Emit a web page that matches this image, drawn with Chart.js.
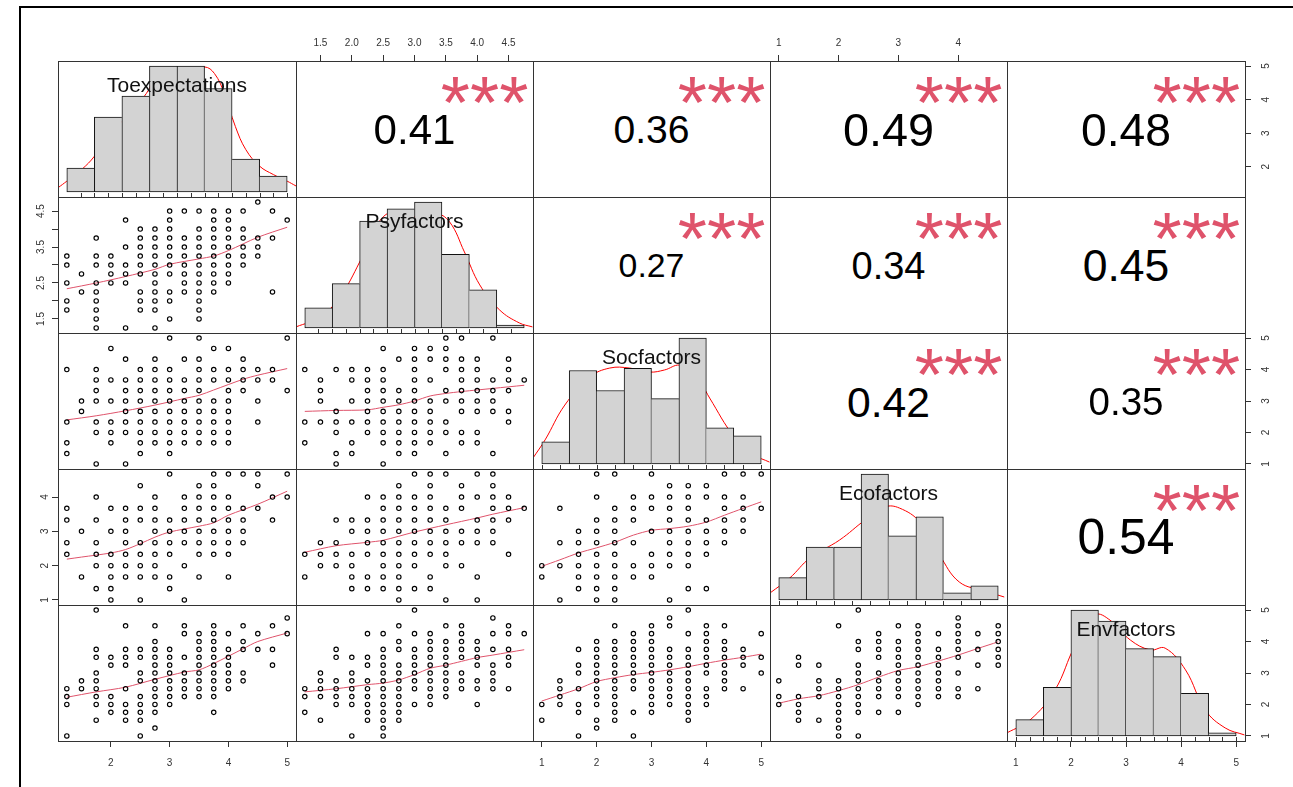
<!DOCTYPE html>
<html>
<head>
<meta charset="utf-8">
<script src="https://cdn.jsdelivr.net/npm/chart.js@4.4.1/dist/chart.umd.min.js"></script>
<style>
html, body { margin: 0; padding: 0; background: #fff; }
body { width: 1293px; height: 787px; position: relative; overflow: hidden; font-family: "Liberation Sans", Arial, sans-serif; }
#frame { position: absolute; left: 19px; top: 6px; width: 1300px; height: 800px; border-left: 2px solid #000; border-top: 2px solid #000; }
canvas { position: absolute; }
.box { position: absolute; border: 1px solid #333; box-sizing: border-box; pointer-events: none; }
.txt { position: absolute; white-space: nowrap; line-height: 1; transform: translate(-50%, -50%); }
.cor { color: #000; }
.star { color: #DF536B; }
.lab { color: #111; font-size: 21px; }
</style>
</head>
<body>
<div id="frame"></div>
<div id="stage"></div>
<script>
const varNames = ['Toexpectations', 'Psyfactors', 'Socfactors', 'Ecofactors', 'Envfactors'];

// lower panels: [x value, [y values at that x]]
const toexpVsPsy = [
    [1.25, [3.25, 3, 2.5, 2, 1.75]],
    [1.5, [2.75, 2.25]],
    [1.75, [3.75, 3.25, 3, 2.5, 2.25, 2, 1.75, 1.5, 1.25]],
    [2, [3.25, 3, 2.75, 2.5]],
    [2.25, [4.25, 3.5, 3, 2.75, 2.5, 1.25]],
    [2.5, [4, 3.75, 3.5, 3.25, 3, 2.75, 2.25, 2, 1.75]],
    [2.75, [4, 3.75, 3.5, 3.25, 3, 2.75, 2.5, 2.25, 2, 1.75, 1.25]],
    [3, [4.5, 4.25, 4, 3.75, 3.5, 3.25, 3, 2.75, 2.25, 2, 1.5]],
    [3.25, [4.5, 3.75, 3.5, 3.25, 3, 2.75, 2.5, 2.25]],
    [3.5, [4.5, 4, 3.75, 3.5, 3.25, 3, 2.75, 2.5, 2.25, 2, 1.75, 1.5]],
    [3.75, [4.5, 4.25, 4, 3.75, 3.5, 3.25, 3, 2.75, 2.5, 2.25]],
    [4, [4.5, 4.25, 4, 3.75, 3.5, 3.25, 3, 2.75, 2.5]],
    [4.25, [4.5, 4, 3.75, 3.5, 3.25, 3]],
    [4.5, [4.75, 3.75, 3.5, 3.25]],
    [4.75, [4.5, 3.75, 2.25]],
    [5, [4.25]]
];
const toexpVsSoc = [
    [1.25, [4, 2.33, 1.67, 1.33]],
    [1.5, [3, 2.67]],
    [1.75, [4, 3.67, 3.33, 3, 2.33, 2, 1]],
    [2, [4.67, 3.67, 3, 2.33, 2, 1.67]],
    [2.25, [4.33, 3.67, 3.33, 3, 2.67, 2.33, 2, 1]],
    [2.5, [4, 3.67, 3.33, 3, 2.67, 2.33, 2, 1.67, 1.33]],
    [2.75, [4.33, 4, 3.67, 3.33, 3, 2.67, 2.33, 2, 1.67]],
    [3, [5, 4, 3.67, 3.33, 3, 2.67, 2.33, 2, 1.67, 1.33]],
    [3.25, [4.33, 3.67, 3.33, 3, 2.67, 2.33, 2, 1.67]],
    [3.5, [5, 4.33, 4, 3.67, 3.33, 3, 2.67, 2.33, 2, 1.67]],
    [3.75, [4.67, 4, 3.67, 3, 2.67, 2.33, 2, 1.67]],
    [4, [4.67, 4, 3.67, 3.33, 3, 2.67, 2.33, 2, 1.67]],
    [4.25, [4.33, 4, 3.67, 3.33]],
    [4.5, [4, 3.67, 3, 2.33]],
    [4.75, [4, 3.67]],
    [5, [5, 3.33]]
];
const toexpVsEco = [
    [1.25, [3.67, 3.33, 2.67, 2.33]],
    [1.5, [3, 1.67]],
    [1.75, [4, 3.33, 2.67, 2.33, 2, 1.33]],
    [2, [3.67, 3, 2.33, 2, 1.67, 1.33, 1]],
    [2.25, [3.67, 3.33, 3, 2.67, 2.33, 2, 1.67]],
    [2.5, [4.33, 3.67, 3.33, 2.67, 2.33, 2, 1.67, 1]],
    [2.75, [4, 3.67, 3.33, 3, 2.67, 2.33, 2, 1.67]],
    [3, [4.67, 3.33, 3, 2.67, 2.33, 1.67, 1.33]],
    [3.25, [4, 3.67, 3.33, 3, 2.67, 2, 1]],
    [3.5, [4.33, 4, 3.67, 3.33, 3, 2.67, 2.33, 1.67]],
    [3.75, [4.67, 4.33, 4, 3.67, 3.33, 3, 2.67, 2.33]],
    [4, [4.67, 4, 3.67, 3.33, 3, 2.67, 2.33, 1.67]],
    [4.25, [4.67, 3.67, 3.33, 3, 2.67]],
    [4.5, [4.67, 4.33, 3.67]],
    [4.75, [4, 3.33]],
    [5, [4.67, 4]]
];
const toexpVsEnv = [
    [1.25, [2.5, 2.25, 2, 1]],
    [1.5, [2.75, 2.5]],
    [1.75, [5, 3.75, 3.5, 3, 2.75, 2.5, 2.25, 2, 1.5]],
    [2, [3.5, 3.25, 2.25, 2, 1.75]],
    [2.25, [4.5, 3.75, 3.5, 3.25, 2.5, 2, 1.75, 1.5]],
    [2.5, [3.75, 3.5, 3, 2.75, 2.25, 2, 1.75, 1.5, 1]],
    [2.75, [4.5, 4, 3.75, 3.5, 3.25, 3, 2.75, 2.5, 2.25, 2, 1.75, 1.25]],
    [3, [3.75, 3.5, 3.25, 3, 2.75, 2.5, 2.25, 2]],
    [3.25, [4.5, 4.25, 3.5, 3, 2.75, 2.5, 2.25]],
    [3.5, [4.25, 4, 3.75, 3.5, 3.25, 3, 2.75, 2.5, 2.25]],
    [3.75, [4.5, 4.25, 4, 3.75, 3.5, 3.25, 3, 2.75, 2.5, 2.25, 1.75]],
    [4, [4.25, 3.75, 3.5, 3.25, 3, 2.75, 2.5]],
    [4.25, [4.5, 4, 3.75, 3, 2.75]],
    [4.5, [4.25, 3.75]],
    [4.75, [4.5, 3.75, 3.25]],
    [5, [4.75, 4.25]]
];
const psyVsSoc = [
    [1.25, [4, 2.33, 1.67]],
    [1.5, [3.67, 3.33, 3, 2.33]],
    [1.75, [4, 2.67, 2.33, 2, 1.33, 1]],
    [2, [4, 3.67, 3, 2.33, 1.67, 1.33]],
    [2.25, [4, 3.67, 3.33, 3, 2.67, 2.33, 2]],
    [2.5, [4.67, 4, 3.67, 3.33, 3, 2.67, 2.33, 2, 1.67, 1]],
    [2.75, [4.33, 3.33, 3, 2.67, 2.33, 2, 1.67, 1.33]],
    [3, [4.67, 4.33, 4, 3.67, 3.33, 3, 2.67, 2.33, 2, 1.67, 1.33]],
    [3.25, [4.67, 4.33, 3.67, 3, 2.67, 2.33, 2, 1.67]],
    [3.5, [5, 4.67, 4.33, 4, 3.33, 3, 2.33, 2, 1.33]],
    [3.75, [5, 4.33, 4, 3.67, 3.33, 3, 2.67, 2, 1.67]],
    [4, [4.33, 4, 3.67, 3.33, 3, 2.67, 2, 1.67]],
    [4.25, [5, 3.67, 3.33, 3, 2.67, 1.33]],
    [4.5, [4.33, 4, 3.67, 3.33, 2.67, 2.33]],
    [4.75, [3.67]]
];
const psyVsEco = [
    [1.25, [2.33, 1.67]],
    [1.5, [2.67, 2.33, 2]],
    [1.75, [3.33, 2.67, 2.33, 2]],
    [2, [3.33, 3, 2.33, 2, 1.67, 1.33]],
    [2.25, [4, 3.33, 3, 2.67, 2.33, 1.67, 1.33]],
    [2.5, [4, 3.67, 3.33, 3, 2.67, 2.33, 2, 1.67, 1.33]],
    [2.75, [4.33, 4, 3.67, 3.33, 3, 2.67, 2.33, 2, 1.67, 1.33, 1]],
    [3, [4.67, 4, 3.67, 3.33, 3, 2.67, 2.33, 2, 1.33]],
    [3.25, [4.67, 4.33, 4, 3.67, 3.33, 3, 2.67, 2.33, 1.67, 1.33]],
    [3.5, [4.67, 3.67, 3.33, 3, 2.67, 2.33, 2, 1]],
    [3.75, [4.33, 4, 3.67, 3, 2.67, 2]],
    [4, [4.67, 4, 3.33, 3, 2.67, 1.67, 1]],
    [4.25, [4.67, 4.33, 4, 3.67, 3.33, 3, 2.67]],
    [4.5, [4, 3.67, 3.33, 2.33]],
    [4.75, [3.67]]
];
const psyVsEnv = [
    [1.25, [2.5, 2.25, 1.75]],
    [1.5, [3, 2.75, 2.5, 2.25, 1.5]],
    [1.75, [3.75, 3.5, 2.75, 2.5, 2.25, 2]],
    [2, [3.5, 3, 2.75, 2.5, 2.25, 2, 1]],
    [2.25, [4.25, 3.5, 3.25, 2.75, 2.5, 2.25, 2, 1.75, 1.5]],
    [2.5, [4.25, 3.75, 3.5, 3.25, 3, 2.75, 2.5, 2.25, 2, 1.75, 1.5, 1.25, 1]],
    [2.75, [4.5, 4, 3.75, 3.25, 3, 2.75, 2.5, 2.25, 2, 1.75, 1.5]],
    [3, [5, 4.25, 3.75, 3.5, 3.25, 3, 2.75, 2.5, 2]],
    [3.25, [4.25, 4, 3.75, 3.5, 3.25, 3, 2.75, 2.5, 2.25, 2]],
    [3.5, [4.5, 4, 3.75, 3.5, 3.25, 3, 2.75, 2.5, 2.25]],
    [3.75, [4.5, 4.25, 4, 3.75, 3.5, 3, 2.75, 2.5]],
    [4, [4, 3.75, 3.5, 3.25, 2.75, 2.5, 2]],
    [4.25, [4.75, 4.25, 3.75, 3.25, 3, 2.75, 2.5]],
    [4.5, [4.5, 4.25, 3.75, 3.5, 3.25, 2.5]],
    [4.75, [4.25]]
];
const socVsEco = [
    [1, [2, 1.67]],
    [1.33, [3.67, 2.67, 2, 1]],
    [1.67, [3, 2.67, 2.33, 2, 1.67, 1.33]],
    [2, [4.67, 4, 3.33, 3, 2.67, 2.33, 2, 1.67, 1.33, 1]],
    [2.33, [4.67, 3.67, 3.33, 3, 2.67, 2.33, 2, 1.67, 1.33, 1]],
    [2.67, [4, 3.67, 3.33, 2.67, 2, 1.67]],
    [3, [4.67, 4, 3.67, 3, 2.33, 2, 1.67]],
    [3.33, [4.33, 4, 3.67, 3.33, 3, 2.67, 2.33, 2, 1]],
    [3.67, [4.33, 4, 3.67, 3.33, 3, 2.67, 2.33, 2, 1.33]],
    [4, [4.33, 4, 3.33, 3, 2.67, 2.33, 1.33]],
    [4.33, [4.67, 4, 3.67, 3.33, 3, 2.67]],
    [4.67, [4.67, 4, 3.67, 3.33, 3]],
    [5, [4.67, 3.67]]
];
const socVsEnv = [
    [1, [2, 1.5]],
    [1.33, [2.75, 2.5, 2.25, 2]],
    [1.67, [3.75, 3.25, 3, 2.5, 2, 1.75, 1]],
    [2, [4, 3.75, 3.5, 3.25, 3, 2.75, 2.5, 2.25, 2, 1.5, 1.25]],
    [2.33, [4.5, 4, 3.75, 3.5, 3.25, 3, 2.75, 2.5, 2.25, 2, 1.75, 1.5]],
    [2.67, [4.25, 4, 3.75, 3.5, 3.25, 3, 2.75, 2.5, 1.75, 1]],
    [3, [4.5, 4.25, 4, 3.75, 3.5, 3.25, 3, 2.75, 2.5, 2.25, 2, 1.75]],
    [3.33, [4.75, 4.5, 3.75, 3.5, 3.25, 3, 2.75, 2.5, 2.25, 2]],
    [3.67, [5, 4.25, 3.75, 3.5, 3.25, 3, 2.75, 2.5, 2.25, 2, 1.75, 1.5]],
    [4, [4.5, 4.25, 4, 3.75, 3.5, 3.25, 3, 2.5, 2.25, 2]],
    [4.33, [4.5, 4, 3.75, 3.5, 3.25, 3, 2.75, 2.5]],
    [4.67, [3.75, 3.5, 3.25, 2.5]],
    [5, [4.25, 3.5, 3]]
];
const ecoVsEnv = [
    [1, [2.75, 2.25, 2]],
    [1.33, [3.5, 3.25, 2.25, 2, 1.75, 1.5]],
    [1.67, [3.25, 2.75, 2.5, 2.25, 1.5]],
    [2, [4.5, 2.75, 2.5, 2.25, 2, 1.75, 1.5, 1.25, 1]],
    [2.33, [5, 4, 3.75, 3.25, 3, 2.75, 2.5, 2.25, 2, 1.75, 1]],
    [2.67, [4.25, 4, 3.75, 3.5, 3, 2.75, 2.5, 2.25, 1.75]],
    [3, [4.5, 4, 3.75, 3.5, 3.25, 3, 2.75, 2.5, 2.25, 1.75]],
    [3.33, [4.5, 4.25, 4, 3.75, 3.5, 3.25, 3, 2.75, 2.5, 2.25, 2]],
    [3.67, [4.25, 3.75, 3.5, 3.25, 3, 2.75, 2.5, 2.25]],
    [4, [4.75, 4.5, 4.25, 4, 3.75, 3.5, 3, 2.5, 2.25]],
    [4.33, [4.25, 3.75, 3.25, 2.5]],
    [4.67, [4.5, 4.25, 4, 3.75, 3.5, 3.25]]
];

// smoother lines
const smoothToexpPsy = [[1.25, 2.34], [1.75, 2.5], [2.25, 2.68], [2.75, 2.88], [3, 3.02], [3.5, 3.17], [3.75, 3.25], [4, 3.4], [4.5, 3.77], [5, 4.05]];
const smoothToexpSoc = [[1.25, 2.4], [1.75, 2.53], [2.25, 2.69], [2.75, 2.87], [3.25, 3.08], [3.5, 3.18], [3.75, 3.35], [4.25, 3.69], [4.5, 3.82], [5, 4.03]];
const smoothToexpEco = [[1.25, 2.19], [1.5, 2.25], [2, 2.37], [2.25, 2.47], [2.5, 2.64], [2.75, 2.83], [3, 2.98], [3.5, 3.15], [3.75, 3.25], [4, 3.47], [4.5, 3.79], [5, 4.17]];
const smoothToexpEnv = [[1.25, 2.23], [1.75, 2.4], [2.25, 2.55], [2.75, 2.8], [3.25, 3.03], [3.5, 3.1], [3.75, 3.3], [4.25, 3.77], [4.5, 4.0], [5, 4.27]];
const smoothPsySoc = [[1.25, 2.67], [1.75, 2.7], [2.25, 2.72], [2.5, 2.8], [2.75, 2.88], [3, 3.0], [3.25, 3.16], [3.5, 3.24], [3.75, 3.3], [4, 3.35], [4.25, 3.4], [4.75, 3.5]];
const smoothPsyEco = [[1.25, 2.39], [1.75, 2.58], [2.25, 2.68], [2.5, 2.74], [3, 2.98], [3.5, 3.19], [4, 3.39], [4.25, 3.5], [4.75, 3.69]];
const smoothPsyEnv = [[1.25, 2.4], [1.75, 2.5], [2.25, 2.63], [2.5, 2.68], [2.75, 2.78], [3, 2.95], [3.25, 3.15], [3.5, 3.25], [3.75, 3.37], [4, 3.49], [4.25, 3.57], [4.75, 3.74]];
const smoothSocEco = [[1, 1.98], [1.33, 2.17], [1.67, 2.37], [2, 2.52], [2.33, 2.68], [2.67, 2.89], [3, 3.03], [3.33, 3.08], [3.67, 3.15], [4, 3.27], [4.33, 3.47], [4.67, 3.67], [5, 3.86]];
const smoothSocEnv = [[1, 2.11], [1.33, 2.3], [1.67, 2.5], [2, 2.73], [2.33, 2.85], [2.67, 2.95], [3, 3.02], [3.33, 3.1], [3.67, 3.2], [4, 3.31], [4.33, 3.41], [4.67, 3.5], [5, 3.6]];
const smoothEcoEnv = [[1, 2.04], [1.33, 2.18], [1.67, 2.28], [2, 2.44], [2.33, 2.63], [2.67, 2.87], [3, 3.08], [3.33, 3.2], [3.67, 3.38], [4, 3.57], [4.33, 3.78], [4.67, 3.99]];

// diagonal histograms (density scale) and density curves
const histBreaks = [1, 1.5, 2, 2.5, 3, 3.5, 4, 4.5, 5];
const histToexp = [0.08, 0.25, 0.32, 0.42, 0.42, 0.345, 0.11, 0.053];
const histPsy = [0.076, 0.167, 0.402, 0.448, 0.474, 0.277, 0.144, 0.011];
const histSoc = [0.082, 0.346, 0.272, 0.354, 0.242, 0.466, 0.134, 0.104];
const histEco = [0.106, 0.25, 0.25, 0.596, 0.303, 0.394, 0.034, 0.067];
const histEnv = [0.063, 0.188, 0.486, 0.443, 0.337, 0.306, 0.165, 0.012];

const densToexp = [[0.84, 0.014], [1.0, 0.036], [1.27, 0.075], [1.5, 0.119], [1.73, 0.185], [2.0, 0.235], [2.25, 0.284], [2.5, 0.345], [2.62, 0.40], [2.75, 0.403], [3.0, 0.395], [3.2, 0.40], [3.5, 0.417], [3.68, 0.395], [3.86, 0.328], [4.06, 0.218], [4.25, 0.141], [4.5, 0.086], [4.75, 0.058], [5.0, 0.036], [5.16, 0.02]];
const densPsy = [[0.84, 0.004], [1.28, 0.041], [1.64, 0.117], [2.0, 0.248], [2.28, 0.376], [2.55, 0.436], [2.82, 0.433], [3.09, 0.414], [3.37, 0.433], [3.64, 0.399], [3.91, 0.286], [4.19, 0.162], [4.55, 0.068], [4.91, 0.019], [5.15, 0.004]];
const densSoc = [[0.84, 0.022], [1.06, 0.089], [1.42, 0.218], [1.88, 0.322], [2.24, 0.355], [2.6, 0.355], [2.97, 0.34], [3.24, 0.348], [3.51, 0.366], [3.78, 0.34], [4.06, 0.244], [4.51, 0.1], [4.88, 0.033], [5.15, 0.007]];
const densEco = [[0.84, 0.033], [1.2, 0.104], [1.57, 0.199], [2.11, 0.284], [2.57, 0.378], [2.93, 0.44], [3.2, 0.435], [3.57, 0.369], [3.93, 0.213], [4.29, 0.085], [4.75, 0.043], [5.11, 0.014]];
const densEnv = [[0.84, 0.012], [1.26, 0.062], [1.71, 0.177], [2.08, 0.351], [2.44, 0.467], [2.71, 0.447], [3.08, 0.37], [3.44, 0.332], [3.71, 0.339], [4.08, 0.255], [4.44, 0.1], [4.8, 0.031], [5.15, 0.004]];

// upper panels, row by row: (1,2) (1,3) (1,4) (1,5) (2,3) (2,4) (2,5) (3,4) (3,5) (4,5)
const corrValues = [0.41, 0.36, 0.49, 0.48, 0.27, 0.34, 0.45, 0.42, 0.35, 0.54];
const corrStars = ['***', '***', '***', '***', '***', '***', '***', '***', '***', '***'];

// axis ticks
const toexpTicks = [2, 3, 4, 5];
const psyTicks = [1.5, 2, 2.5, 3, 3.5, 4, 4.5];
const psyLeftLabels = [1.5, 2.5, 3.5, 4.5];
const socTicks = [1, 2, 3, 4, 5];
const ecoTicks = [1, 2, 3, 4];
const envTicks = [1, 2, 3, 4, 5];

const colX = [58, 296, 533, 770, 1007, 1245];
const rowY = [61, 197, 333, 469, 605, 741];
const M = 30;
const LINE = '#333';
const FONT = 'Liberation Sans';

const stage = document.getElementById('stage');

function padRange(vals) {
    const lo = Math.min(...vals), hi = Math.max(...vals), p = (hi - lo) * 0.04;
    return [lo - p, hi + p];
}
const xsOf = cols => cols.map(c => c[0]);
const ysOf = cols => cols.flatMap(c => c[1]);
const uniq = vals => [...new Set(vals)].sort((a, b) => a - b);

const varVals = [
    [...xsOf(toexpVsPsy), ...xsOf(toexpVsSoc), ...xsOf(toexpVsEco), ...xsOf(toexpVsEnv)],
    [...ysOf(toexpVsPsy), ...xsOf(psyVsSoc), ...xsOf(psyVsEco), ...xsOf(psyVsEnv)],
    [...ysOf(toexpVsSoc), ...ysOf(psyVsSoc), ...xsOf(socVsEco), ...xsOf(socVsEnv)],
    [...ysOf(toexpVsEco), ...ysOf(psyVsEco), ...ysOf(socVsEco), ...xsOf(ecoVsEnv)],
    [...ysOf(toexpVsEnv), ...ysOf(psyVsEnv), ...ysOf(socVsEnv), ...ysOf(ecoVsEnv)]
];
const ranges = varVals.map(padRange);

function panelRect(r, c) {
    return { left: colX[c], top: rowY[r], w: colX[c + 1] - colX[c], h: rowY[r + 1] - rowY[r] };
}

function makeCanvas(r, c) {
    const p = panelRect(r, c);
    const cv = document.createElement('canvas');
    cv.width = p.w + 2 * M;
    cv.height = p.h + 2 * M;
    cv.style.left = (p.left - M) + 'px';
    cv.style.top = (p.top - M) + 'px';
    stage.appendChild(cv);
    return cv;
}

function axisScale(dir, pos, range, ticks, labelled, dec, pad) {
    const vertical = dir === 'y';
    return {
        type: 'linear', axis: dir, position: pos, min: range[0], max: range[1], bounds: 'data',
        offset: false, beginAtZero: false,
        afterBuildTicks: s => { s.ticks = ticks.map(v => ({ value: v })); },
        afterFit: s => { if (vertical) s.width = M; else s.height = M; },
        grid: { offset: false, drawOnChartArea: false, drawTicks: true, tickLength: 6, color: LINE, lineWidth: 1 },
        border: { display: false },
        ticks: {
            color: '#333', padding: pad, autoSkip: false,
            font: { family: FONT, size: 10 },
            minRotation: vertical ? 90 : 0, maxRotation: vertical ? 90 : 0,
            crossAlign: vertical ? 'center' : 'near',
            callback: v => labelled.some(l => Math.abs(l - v) < 1e-9) ? v.toFixed(dec) : ''
        }
    };
}

function hiddenScale(dir, range, ticks) {
    const s = { type: 'linear', axis: dir, display: false, min: range[0], max: range[1], bounds: 'data', offset: false, grid: { offset: false } };
    if (ticks) s.afterBuildTicks = sc => { sc.ticks = ticks.map(v => ({ value: v })); };
    return s;
}

function baseOptions(sides, scales) {
    return {
        responsive: false, animation: false, devicePixelRatio: 1, events: [],
        layout: { padding: {
            left: sides.left ? 0 : M, right: sides.right ? 0 : M,
            top: sides.top ? 0 : M, bottom: sides.bottom ? 0 : M } },
        plugins: { legend: { display: false }, tooltip: { enabled: false } },
        scales: scales
    };
}

// axes that sit on the outer edge of the matrix
const axisDefs = {
    top: { 1: [psyTicks, psyTicks, 1], 3: [ecoTicks, ecoTicks, 0] },
    bottom: { 0: [toexpTicks, toexpTicks, 0], 2: [socTicks, socTicks, 0], 4: [envTicks, envTicks, 0] },
    left: { 1: [psyTicks, psyLeftLabels, 1], 3: [ecoTicks, ecoTicks, 0] },
    right: { 0: [toexpTicks, toexpTicks, 0], 2: [socTicks, socTicks, 0], 4: [envTicks, envTicks, 0] }
};

function edgeScales(r, c) {
    const s = {}, sides = {};
    if (r === 0 && axisDefs.top[c]) {
        const [t, l, d] = axisDefs.top[c];
        s.xt = axisScale('x', 'top', ranges[c], t, l, d, 6); sides.top = true;
    }
    if (r === 4 && axisDefs.bottom[c]) {
        const [t, l, d] = axisDefs.bottom[c];
        s.xb = axisScale('x', 'bottom', ranges[c], t, l, d, 10); sides.bottom = true;
    }
    if (c === 0 && axisDefs.left[r]) {
        const [t, l, d] = axisDefs.left[r];
        s.yl = axisScale('y', 'left', ranges[r], t, l, d, 4); sides.left = true;
    }
    if (c === 4 && axisDefs.right[r]) {
        const [t, l, d] = axisDefs.right[r];
        s.yr = axisScale('y', 'right', ranges[r], t, l, d, 12); sides.right = true;
    }
    return { s, sides };
}

const rugPlugin = {
    id: 'rug',
    afterDatasetsDraw(chart, args, opts) {
        if (!opts.values) return;
        const { ctx, chartArea, scales } = chart;
        ctx.save();
        ctx.strokeStyle = LINE;
        ctx.lineWidth = 1;
        opts.values.forEach(v => {
            const px = Math.round(scales.x.getPixelForValue(v)) + 0.5;
            ctx.beginPath();
            ctx.moveTo(px, chartArea.bottom);
            ctx.lineTo(px, chartArea.bottom - 4);
            ctx.stroke();
        });
        ctx.restore();
    }
};

function scatterPanel(r, c, cols, smooth) {
    const pts = [];
    cols.forEach(([x, ys]) => ys.forEach(y => pts.push({ x, y })));
    const { s, sides } = edgeScales(r, c);
    const scales = Object.assign({ x: hiddenScale('x', ranges[c]), y: hiddenScale('y', ranges[r]) }, s);
    new Chart(makeCanvas(r, c), {
        type: 'scatter',
        data: { datasets: [
            { data: pts, pointRadius: 2.2, pointHoverRadius: 2.2, borderWidth: 1.15, borderColor: '#000', backgroundColor: 'rgba(0,0,0,0)' },
            { type: 'line', data: smooth.map(([x, y]) => ({ x, y })), showLine: true, borderColor: '#DF536B', borderWidth: 1, pointRadius: 0, tension: 0.3, fill: false }
        ] },
        options: baseOptions(sides, scales)
    });
}

function histPanel(i, dens, curve) {
    const b0 = histBreaks[0], bn = histBreaks[histBreaks.length - 1];
    const hx = [b0 - (bn - b0) * 0.04, bn + (bn - b0) * 0.04];
    const top = Math.max(...dens);
    const hy = [-top * 0.04, top * 1.04];
    const bars = dens.map((d, k) => ({ x: (histBreaks[k] + histBreaks[k + 1]) / 2, y: d }));
    const { s, sides } = edgeScales(i, i);
    const scales = Object.assign({ x: hiddenScale('x', hx, histBreaks), y: hiddenScale('y', hy) }, s);
    const last = dens.length - 1;
    const options = baseOptions(sides, scales);
    options.plugins.rug = { values: uniq(varVals[i]) };
    new Chart(makeCanvas(i, i), {
        type: 'bar',
        data: { datasets: [
            {
                data: bars, backgroundColor: '#D3D3D3', borderColor: '#111', borderSkipped: false,
                barPercentage: 1, categoryPercentage: 1, xAxisID: 'x', yAxisID: 'y',
                borderWidth: ctx => {
                    const k = ctx.dataIndex;
                    const left = (k === 0 || dens[k - 1] <= dens[k]) ? 1 : 0;
                    const right = (k === last || dens[k + 1] < dens[k]) ? 1 : 0;
                    return { top: 1, bottom: 1, left, right };
                }
            },
            { type: 'line', xAxisID: 'x', yAxisID: 'y', data: curve.map(([x, y]) => ({ x, y })), borderColor: '#FF0000', borderWidth: 1, pointRadius: 0, tension: 0.4, fill: false }
        ] },
        options: options,
        plugins: [rugPlugin]
    });
}

function emptyPanel(r, c) {
    const { s, sides } = edgeScales(r, c);
    if (!Object.keys(s).length) return;
    const scales = Object.assign({ x: hiddenScale('x', ranges[c]), y: hiddenScale('y', ranges[r]) }, s);
    new Chart(makeCanvas(r, c), { type: 'scatter', data: { datasets: [] }, options: baseOptions(sides, scales) });
}

const lowerData = {
    '1,0': [toexpVsPsy, smoothToexpPsy], '2,0': [toexpVsSoc, smoothToexpSoc], '3,0': [toexpVsEco, smoothToexpEco], '4,0': [toexpVsEnv, smoothToexpEnv],
    '2,1': [psyVsSoc, smoothPsySoc], '3,1': [psyVsEco, smoothPsyEco], '4,1': [psyVsEnv, smoothPsyEnv],
    '3,2': [socVsEco, smoothSocEco], '4,2': [socVsEnv, smoothSocEnv],
    '4,3': [ecoVsEnv, smoothEcoEnv]
};
const histData = [[histToexp, densToexp], [histPsy, densPsy], [histSoc, densSoc], [histEco, densEco], [histEnv, densEnv]];

let corrIdx = 0;
for (let r = 0; r < 5; r++) {
    for (let c = 0; c < 5; c++) {
        const p = panelRect(r, c);
        if (r > c) {
            const [cols, sm] = lowerData[r + ',' + c];
            scatterPanel(r, c, cols, sm);
        } else if (r === c) {
            histPanel(r, histData[r][0], histData[r][1]);
            const lab = document.createElement('div');
            lab.className = 'txt lab';
            lab.textContent = varNames[r];
            lab.style.left = (p.left + p.w / 2) + 'px';
            lab.style.top = (p.top + p.h / 6) + 'px';
            document.body.appendChild(lab);
        } else {
            emptyPanel(r, c);
            const rv = corrValues[corrIdx];
            const cor = document.createElement('div');
            cor.className = 'txt cor';
            cor.textContent = rv.toFixed(2);
            cor.style.fontSize = (59.3 * (Math.abs(rv) + 0.3)).toFixed(1) + 'px';
            cor.style.left = (p.left + p.w / 2) + 'px';
            cor.style.top = (p.top + p.h / 2 + 1) + 'px';
            document.body.appendChild(cor);
            const st = document.createElement('div');
            st.className = 'txt star';
            st.textContent = corrStars[corrIdx];
            st.style.fontSize = '75px';
            st.style.left = (p.left + p.w * 0.8 - 1) + 'px';
            st.style.top = (p.top + p.h * 0.2 + 14) + 'px';
            document.body.appendChild(st);
            corrIdx++;
        }
        const box = document.createElement('div');
        box.className = 'box';
        box.style.left = p.left + 'px';
        box.style.top = p.top + 'px';
        box.style.width = (p.w + 1) + 'px';
        box.style.height = (p.h + 1) + 'px';
        document.body.appendChild(box);
    }
}
</script>
</body>
</html>
